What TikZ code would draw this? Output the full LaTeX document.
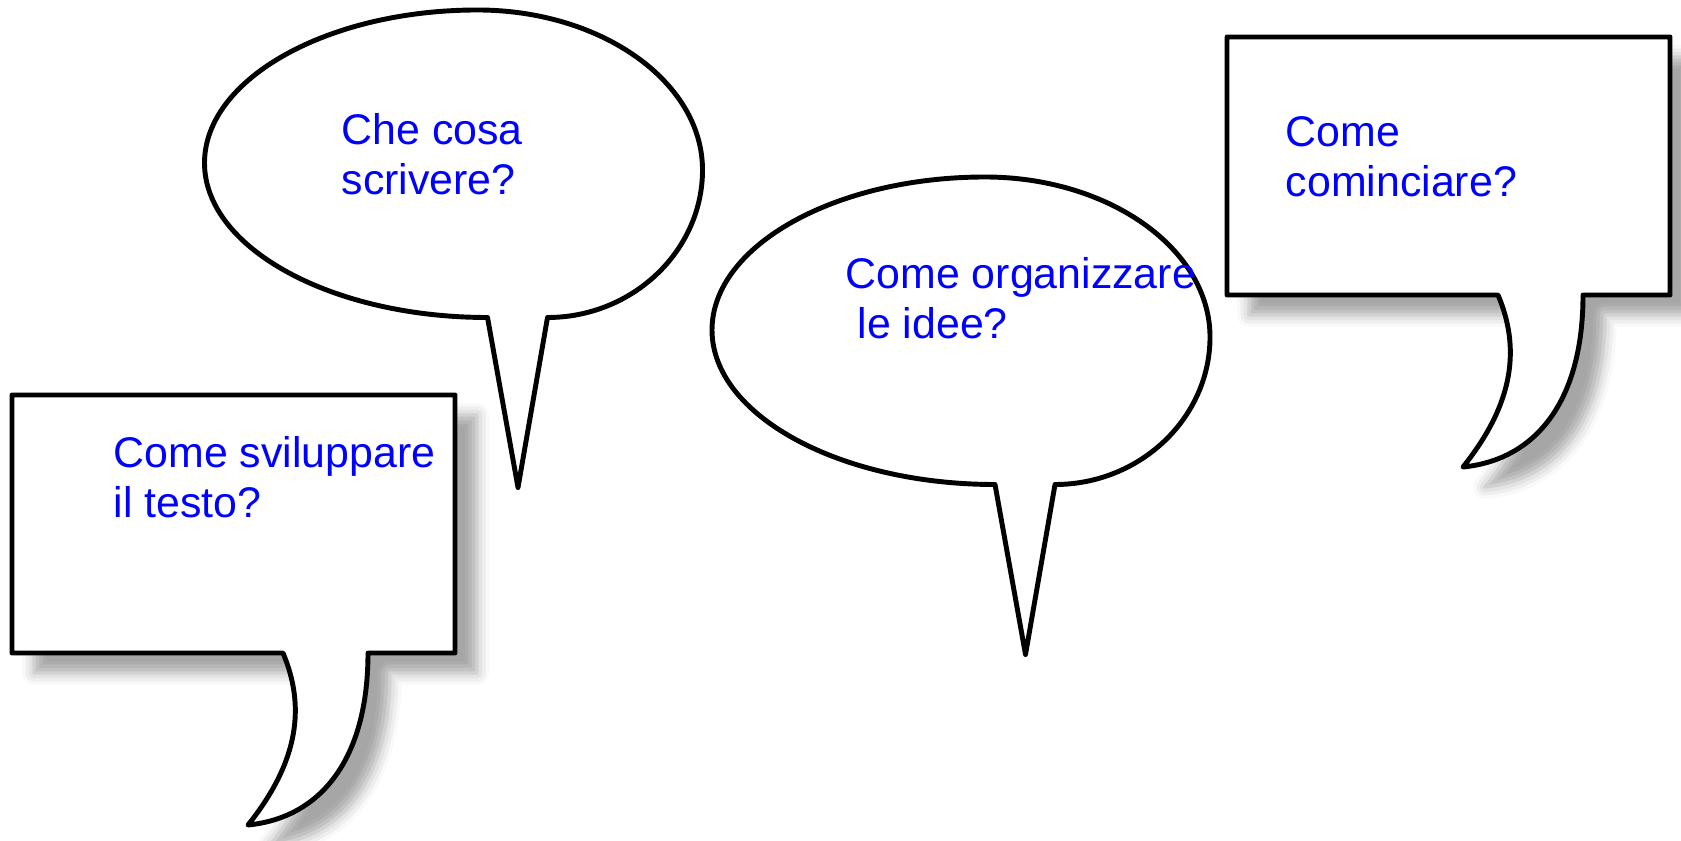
\documentclass[tikz,border=0pt]{standalone}
\usepackage{fontspec}
\setmainfont{Liberation Sans}
\usetikzlibrary{shadows.blur}

\tikzset{
  bubble/.style={draw=black,line width=1.4pt,fill=white,line join=round},
  boxbubble/.style={bubble,blur shadow={shadow xshift=0.22cm,shadow yshift=-0.2cm,
      shadow blur radius=0.12cm,shadow opacity=35}},
  question/.style={text=blue,font=\fontsize{12.2}{14.5}\selectfont,align=left,
      inner sep=0pt,anchor=base west},
  % rectangular callout, origin at top-left corner
  boxcall/.pic={
    \path[boxbubble] (0,0) -- (4.43,0) -- (4.43,-2.58) -- (3.56,-2.58)
      .. controls (3.56,-3.65) and (3.08,-4.23) .. (2.36,-4.30)
      .. controls (2.88,-3.65) and (2.93,-3.10) .. (2.71,-2.58)
      -- (0,-2.58) -- cycle;
  },
  % oval callout, origin at centre of the oval
  ovalcall/.pic={
    \draw[bubble] (0.94,-1.505)
      .. controls (1.79,-1.505) and (2.49,-0.84) .. (2.49,-0.03)
      .. controls (2.49,0.85) and (1.48,1.57) .. (0.24,1.57)
      .. controls (-1.26,1.57) and (-2.49,0.88) .. (-2.49,0.04)
      .. controls (-2.49,-0.81) and (-1.22,-1.505) .. (0.34,-1.505)
      -- (0.645,-3.205) -- cycle;
  }
}

\begin{document}
\begin{tikzpicture}
  \useasboundingbox (0,0) rectangle (16.81,8.40);

  % callouts
  \pic (boxtesto) at (0.12,4.45) {boxcall};
  \pic (ovalcosa) at (4.535,6.73) {ovalcall};
  \pic (ovalidee) at (9.61,5.06) {ovalcall};
  \pic (boxinizio) at (12.27,8.03) {boxcall};

  % texts (base = last line)
  \node[question] (testo) at (1.13,3.22) {Come sviluppare\\il testo?};
  \node[question] (scrivere) at (3.41,6.45) {Che cosa\\scrivere?};
  \node[question] (organizzare) at (8.45,5.01) {Come organizzare\\\mbox{}\ le idee?};
  \node[question] (inizio) at (12.85,6.43) {Come\\cominciare?};
\end{tikzpicture}
\end{document}
